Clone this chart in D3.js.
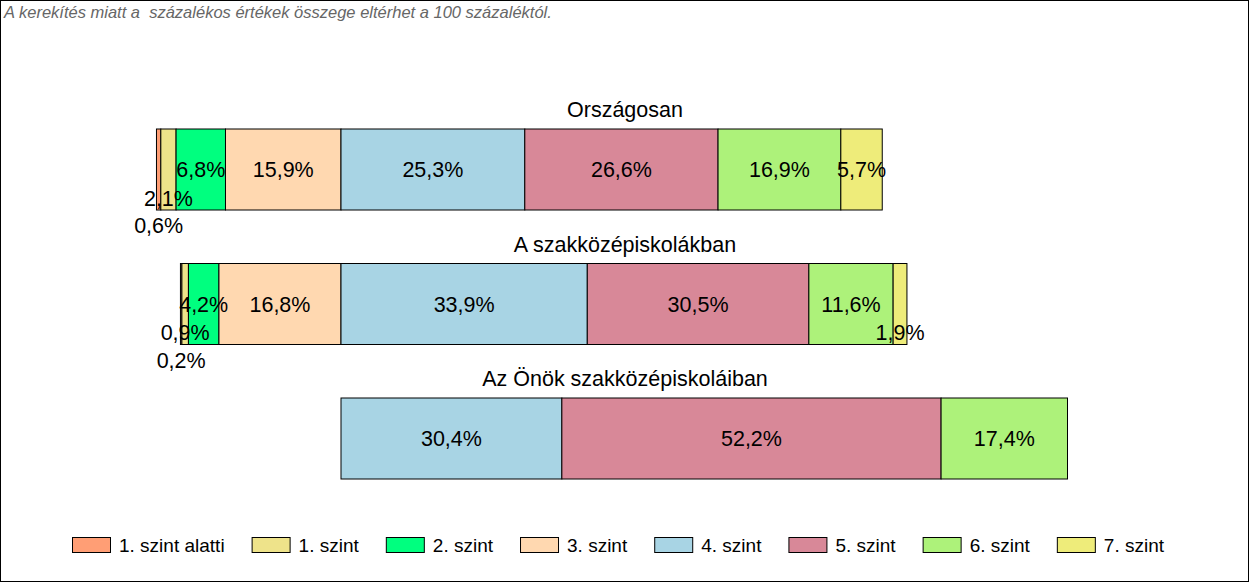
<!DOCTYPE html>
<html><head><meta charset="utf-8">
<script src="https://cdn.jsdelivr.net/npm/d3@7"></script>
<style>body{margin:0;background:#fff}svg{display:block;font-family:Arial,"Liberation Sans",sans-serif}</style>
</head><body>
<svg id="c" width="1250" height="583"></svg>
<script>
const rows = ["Országosan", "A szakközépiskolákban", "Az Önök szakközépiskoláiban"];
const levels = ["1. szint alatti", "1. szint", "2. szint", "3. szint", "4. szint", "5. szint", "6. szint", "7. szint"];
const colors = ["#FF9E75", "#EEE38A", "#00FF7F", "#FFD8B0", "#A8D4E4", "#D88898", "#ADF27A", "#EEEC7A"];
const vOrszagos = [0.6, 2.1, 6.8, 15.9, 25.3, 26.6, 16.9, 5.7];
const vSzakkozep = [0.2, 0.9, 4.2, 16.8, 33.9, 30.5, 11.6, 1.9];
const vOnok = [0, 0, 0, 0, 30.4, 52.2, 17.4, 0];
const values = [vOrszagos, vSzakkozep, vOnok];
const note = "A kerekítés miatt a  százalékos értékek összege eltérhet a 100 százaléktól.";

const svg = d3.select("#c");
svg.append("rect").attr("x",0.5).attr("y",0.5).attr("width",1248).attr("height",581)
  .attr("fill","#fff").attr("stroke","#000");
svg.append("text").attr("x",4).attr("y",18).attr("font-size",16.5).attr("font-style","italic")
  .style("white-space","pre").attr("fill","#666").text(note);

const x = d3.scaleLinear().domain([-30, 100]).range([341 - 30*7.265, 341 + 100*7.265]);
const y = d3.scalePoint().domain(rows).range([169.5, 438.5]);
const barH = 81;
const fs = 21.5;

rows.forEach((r, ri) => {
  const vals = values[ri];
  const leftSum = d3.sum(vals.slice(0,4));
  let cum = -leftSum;
  const segs = vals.map((v,i) => { const s = {v, i, x0: cum, x1: cum + v}; cum += v; return s; });
  const g = svg.append("g");
  const cy = y(r);
  g.append("text").attr("x", 625).attr("y", cy - barH/2 - 12).attr("text-anchor","middle")
    .attr("font-size",fs).text(r);
  const vis = segs.filter(s => s.v > 0);
  g.selectAll("rect").data(vis).join("rect")
    .attr("x", d => x(d.x0)).attr("width", d => x(d.x1) - x(d.x0))
    .attr("y", cy - barH/2).attr("height", barH)
    .attr("fill", d => colors[d.i]).attr("stroke","#000").attr("stroke-width",1);
  vis.forEach((d, k) => {
    let off = 0;
    if (d.v < 3) {
      off = 28.5;
      const nxt = vis[k+1];
      if (nxt && nxt.v < 3) off = 56;
    }
    g.append("text").attr("x", (x(d.x0)+x(d.x1))/2).attr("y", cy + off)
      .attr("dy","0.35em").attr("text-anchor","middle").attr("font-size",fs)
      .text(d3.format(".1f")(d.v).replace(".", ",") + "%");
  });
});

// legend
let lx = 72;
const ly = 537;
levels.forEach((l, i) => {
  svg.append("rect").attr("x", lx+0.5).attr("y", ly+0.5).attr("width",38).attr("height",15)
    .attr("fill", colors[i]).attr("stroke","#000");
  const t = svg.append("text").attr("x", lx + 47).attr("y", ly + 8).attr("dy","0.35em")
    .attr("font-size",19).text(l);
  const w = t.node().getComputedTextLength();
  lx = lx + 47 + w + 27;
});
</script>
</body></html>
